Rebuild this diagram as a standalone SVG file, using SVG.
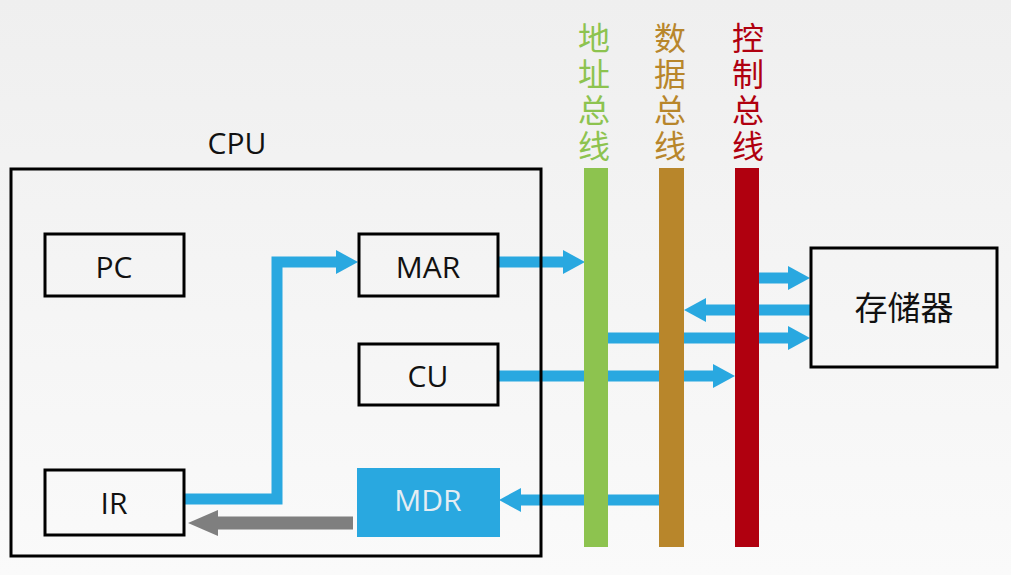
<svg xmlns="http://www.w3.org/2000/svg" width="1011" height="575" viewBox="0 0 1011 575">
<defs>
<linearGradient id="bg" x1="0" y1="0" x2="0" y2="1">
<stop offset="0" stop-color="#efefef"/>
<stop offset="1" stop-color="#fafafa"/>
</linearGradient>
<marker id="hb" markerUnits="userSpaceOnUse" markerWidth="24" markerHeight="24" refX="0" refY="12" orient="auto" viewBox="0 0 24 24">
<path d="M0,0 L22,12 L0,24 z" fill="#29a8e0"/>
</marker>
<marker id="hg" markerUnits="userSpaceOnUse" markerWidth="32" markerHeight="26" refX="0" refY="13" orient="auto" viewBox="0 0 32 26">
<path d="M0,0 L30,13 L0,26 z" fill="#7f7f7f"/>
</marker>
<style>
.box{fill:none;stroke:#000;stroke-width:3}
.lbl{font-family:"Open Sans","Noto Sans",sans-serif;font-size:30px;fill:#111;text-anchor:middle;dominant-baseline:central}
.cjk{font-family:"Noto Sans CJK SC",sans-serif;text-anchor:middle;dominant-baseline:central}
.bus{font-size:32px}
.arr{fill:none;stroke:#29a8e0;stroke-width:11;stroke-linejoin:miter;marker-end:url(#hb)}
</style>
</defs>
<rect width="1011" height="575" fill="url(#bg)"/>
<g id="connectors">
<path class="arr" d="M499,262 H563"/>
<path class="arr" d="M185,499 H277 V262 H336"/>
<path class="arr" d="M499,376 H713"/>
<path class="arr" d="M659,500 H521"/>
<path class="arr" d="M759,278 H788"/>
<path class="arr" d="M810,310 H706"/>
<path class="arr" d="M608,338 H788"/>
<path d="M353,523 H218" fill="none" stroke="#7f7f7f" stroke-width="13" marker-end="url(#hg)"/>
</g>
<g id="addr-bus">
<rect x="584" y="168" width="24" height="379" fill="#8dc34f"/>
<text class="cjk bus" x="594" y="36" fill="#8dc34f">地</text>
<text class="cjk bus" x="594" y="72" fill="#8dc34f">址</text>
<text class="cjk bus" x="594" y="108" fill="#8dc34f">总</text>
<text class="cjk bus" x="594" y="144" fill="#8dc34f">线</text>
</g>
<g id="data-bus">
<rect x="659" y="168" width="25" height="379" fill="#b8862b"/>
<text class="cjk bus" x="670" y="36" fill="#b8862b">数</text>
<text class="cjk bus" x="670" y="72" fill="#b8862b">据</text>
<text class="cjk bus" x="670" y="108" fill="#b8862b">总</text>
<text class="cjk bus" x="670" y="144" fill="#b8862b">线</text>
</g>
<g id="ctrl-bus">
<rect x="735" y="168" width="24" height="379" fill="#b0000f"/>
<text class="cjk bus" x="748" y="36" fill="#b0000f">控</text>
<text class="cjk bus" x="748" y="72" fill="#b0000f">制</text>
<text class="cjk bus" x="748" y="108" fill="#b0000f">总</text>
<text class="cjk bus" x="748" y="144" fill="#b0000f">线</text>
</g>
<g id="cpu">
<rect class="box" x="11" y="169" width="530" height="387"/>
<text class="lbl" x="237" y="142">CPU</text>
</g>
<g id="pc">
<rect class="box" x="45" y="234" width="139" height="62"/>
<text class="lbl" x="114" y="266">PC</text>
</g>
<g id="mar">
<rect class="box" x="359" y="234" width="139" height="62"/>
<text class="lbl" x="428" y="266">MAR</text>
</g>
<g id="cu">
<rect class="box" x="359" y="344" width="139" height="61"/>
<text class="lbl" x="428" y="375">CU</text>
</g>
<g id="ir">
<rect class="box" x="45" y="470" width="139" height="65"/>
<text class="lbl" x="114" y="502">IR</text>
</g>
<g id="mdr">
<rect x="357" y="468" width="143" height="69" fill="#29a8e0"/>
<text class="lbl" x="428" y="499" style="fill:#e4edf3">MDR</text>
</g>
<g id="memory">
<rect class="box" x="811" y="248" width="186" height="119"/>
<text class="cjk" x="904" y="306" style="font-size:33px;fill:#111">存储器</text>
</g>
</svg>
